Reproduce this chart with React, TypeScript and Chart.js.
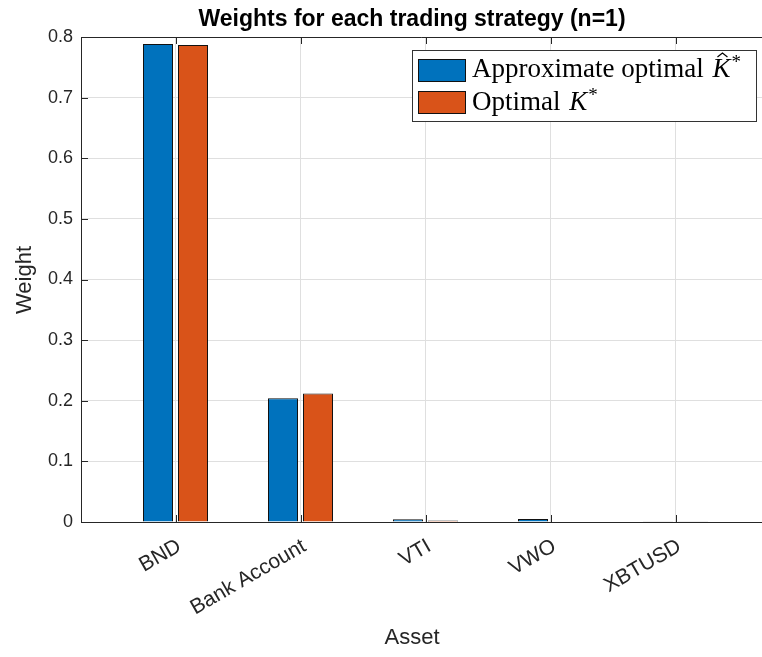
import React, { useEffect, useRef } from 'react';
import { Chart, registerables } from 'chart.js';

Chart.register(...registerables);

const categories = ['BND', 'Bank Account', 'VTI', 'VWO', 'XBTUSD'];
const approxWeights = [0.7884, 0.204, 0.0045, 0.005, 0.0005];
const optimalWeights = [0.7868, 0.212, 0.0023, 0.001, 0.0005];
const yTickValues = [0, 0.1, 0.2, 0.3, 0.4, 0.5, 0.6, 0.7, 0.8];
const yTickLabels = ['0', '0.1', '0.2', '0.3', '0.4', '0.5', '0.6', '0.7', '0.8'];
const seriesNames = ['Approximate optimal', 'Optimal'];
const titleText = 'Weights for each trading strategy (n=1)';
const xTitleText = 'Asset';
const yTitleText = 'Weight';

const BLUE = '#0072BD';
const ORANGE = '#D95319';
const AXIS = '#262626';
const GRID = '#dfdfdf';
const SANS = '"Liberation Sans", Arial, Helvetica, sans-serif';
const SERIF = '"Liberation Serif", "Times New Roman", serif';

const overlayPlugin = {
  id: 'matlabOverlay',
  afterDatasetsDraw(chart: any) {
    const ctx = chart.ctx as CanvasRenderingContext2D;
    const area = chart.chartArea;
    const xs = chart.scales.x;
    const ys = chart.scales.y;
    ctx.save();
    ctx.strokeStyle = AXIS;
    ctx.lineWidth = 1;
    ctx.beginPath();
    ctx.moveTo(area.left + 0.5, area.top + 0.5);
    ctx.lineTo(area.right, area.top + 0.5);
    ctx.moveTo(area.left + 0.5, area.top);
    ctx.lineTo(area.left + 0.5, area.bottom);
    ctx.moveTo(area.left, area.bottom + 0.5);
    ctx.lineTo(area.right, area.bottom + 0.5);
    ctx.stroke();
    ctx.beginPath();
    xs.ticks.forEach((t: any) => {
      const px = Math.round(xs.getPixelForValue(t.value)) + 0.5;
      ctx.moveTo(px, area.bottom);
      ctx.lineTo(px, area.bottom - 7);
      ctx.moveTo(px, area.top);
      ctx.lineTo(px, area.top + 7);
    });
    ys.ticks.forEach((t: any) => {
      const py = Math.round(ys.getPixelForValue(t.value)) + 0.5;
      ctx.moveTo(area.left, py);
      ctx.lineTo(area.left + 7, py);
    });
    ctx.stroke();

    ctx.fillStyle = '#000';
    ctx.font = `bold 23px ${SANS}`;
    ctx.textAlign = 'center';
    ctx.textBaseline = 'alphabetic';
    ctx.fillText(titleText, 412, 26);

    ctx.fillStyle = AXIS;
    ctx.font = `22px ${SANS}`;
    ctx.fillText(xTitleText, 412, 644);
    ctx.save();
    ctx.translate(31, 280);
    ctx.rotate(-Math.PI / 2);
    ctx.fillText(yTitleText, 0, 0);
    ctx.restore();

    const lx = 412, ly = 50, lw = 344, lh = 71;
    ctx.fillStyle = '#fff';
    ctx.fillRect(lx, ly, lw, lh);
    ctx.strokeStyle = '#333';
    ctx.strokeRect(lx + 0.5, ly + 0.5, lw, lh);
    const rows = [
      { color: BLUE, sy: 59, base: 77, name: seriesNames[0], hat: true },
      { color: ORANGE, sy: 91, base: 110, name: seriesNames[1], hat: false },
    ];
    rows.forEach((r) => {
      ctx.fillStyle = r.color;
      ctx.fillRect(418, r.sy, 48, 22);
      ctx.strokeStyle = '#111';
      ctx.strokeRect(418.5, r.sy + 0.5, 47, 22);
      ctx.fillStyle = '#000';
      ctx.textAlign = 'left';
      ctx.font = `27px ${SERIF}`;
      ctx.fillText(r.name, 472, r.base);
      const w = ctx.measureText(r.name + ' ').width;
      const kx = 472 + w + 2;
      ctx.font = `italic 27px ${SERIF}`;
      ctx.fillText('K', kx, r.base);
      const kw = ctx.measureText('K').width;
      ctx.font = `19px ${SERIF}`;
      ctx.fillText('*', kx + kw + 1, r.base - 9);
      if (r.hat) {
        ctx.strokeStyle = '#000';
        ctx.lineWidth = 1.2;
        ctx.beginPath();
        ctx.moveTo(kx + 5, r.base - 20);
        ctx.lineTo(kx + 10, r.base - 24);
        ctx.lineTo(kx + 15, r.base - 20);
        ctx.stroke();
        ctx.lineWidth = 1;
      }
    });
    ctx.restore();
  },
};

export default function App() {
  const ref = useRef<HTMLCanvasElement | null>(null);
  useEffect(() => {
    if (!ref.current) return;
    const chart = new Chart(ref.current, {
      type: 'bar',
      data: {
        datasets: [
          {
            label: seriesNames[0],
            data: categories.map((_, i) => ({ x: i + 1, y: approxWeights[i] })),
            backgroundColor: BLUE,
            borderColor: '#111',
            borderWidth: 1,
            categoryPercentage: 0.56,
            barPercentage: 0.857,
          },
          {
            label: seriesNames[1],
            data: categories.map((_, i) => ({ x: i + 1, y: optimalWeights[i] })),
            backgroundColor: ORANGE,
            borderColor: '#111',
            borderWidth: 1,
            categoryPercentage: 0.56,
            barPercentage: 0.857,
          },
        ],
      },
      options: {
        responsive: false,
        animation: false,
        layout: { padding: { top: 37, right: 0, left: 0, bottom: 0 } },
        plugins: { legend: { display: false }, title: { display: false }, tooltip: { enabled: false } },
        scales: {
          x: {
            type: 'linear',
            offset: false,
            min: 0.244,
            max: 5.692,
            afterBuildTicks: (s: any) => {
              s.ticks = categories.map((_, i) => ({ value: i + 1 }));
            },
            afterFit: (s: any) => {
              s.height = 135;
            },
            ticks: {
              autoSkip: false,
              minRotation: 30,
              maxRotation: 30,
              padding: 12,
              labelOffset: 4,
              color: AXIS,
              font: { family: SANS, size: 21 },
              callback: (_v: any, i: number) => categories[i],
            },
            grid: { color: GRID, drawTicks: false, offset: false },
            border: { display: true, color: AXIS },
          },
          y: {
            min: 0,
            max: 0.8,
            afterBuildTicks: (s: any) => {
              s.ticks = yTickValues.map((v) => ({ value: v }));
            },
            afterFit: (s: any) => {
              s.width = 81;
            },
            ticks: {
              padding: 8,
              color: AXIS,
              font: { family: SANS, size: 18 },
              callback: (_v: any, i: number) => yTickLabels[i],
            },
            grid: { color: GRID, drawTicks: false },
            border: { display: true, color: AXIS },
          },
        },
      },
      plugins: [overlayPlugin],
    } as any);
    return () => chart.destroy();
  }, []);
  return (
    <canvas
      ref={ref}
      width={762}
      height={657}
      style={{ position: 'fixed', left: 0, top: 0, width: 762, height: 657, background: '#fff' }}
    />
  );
}
